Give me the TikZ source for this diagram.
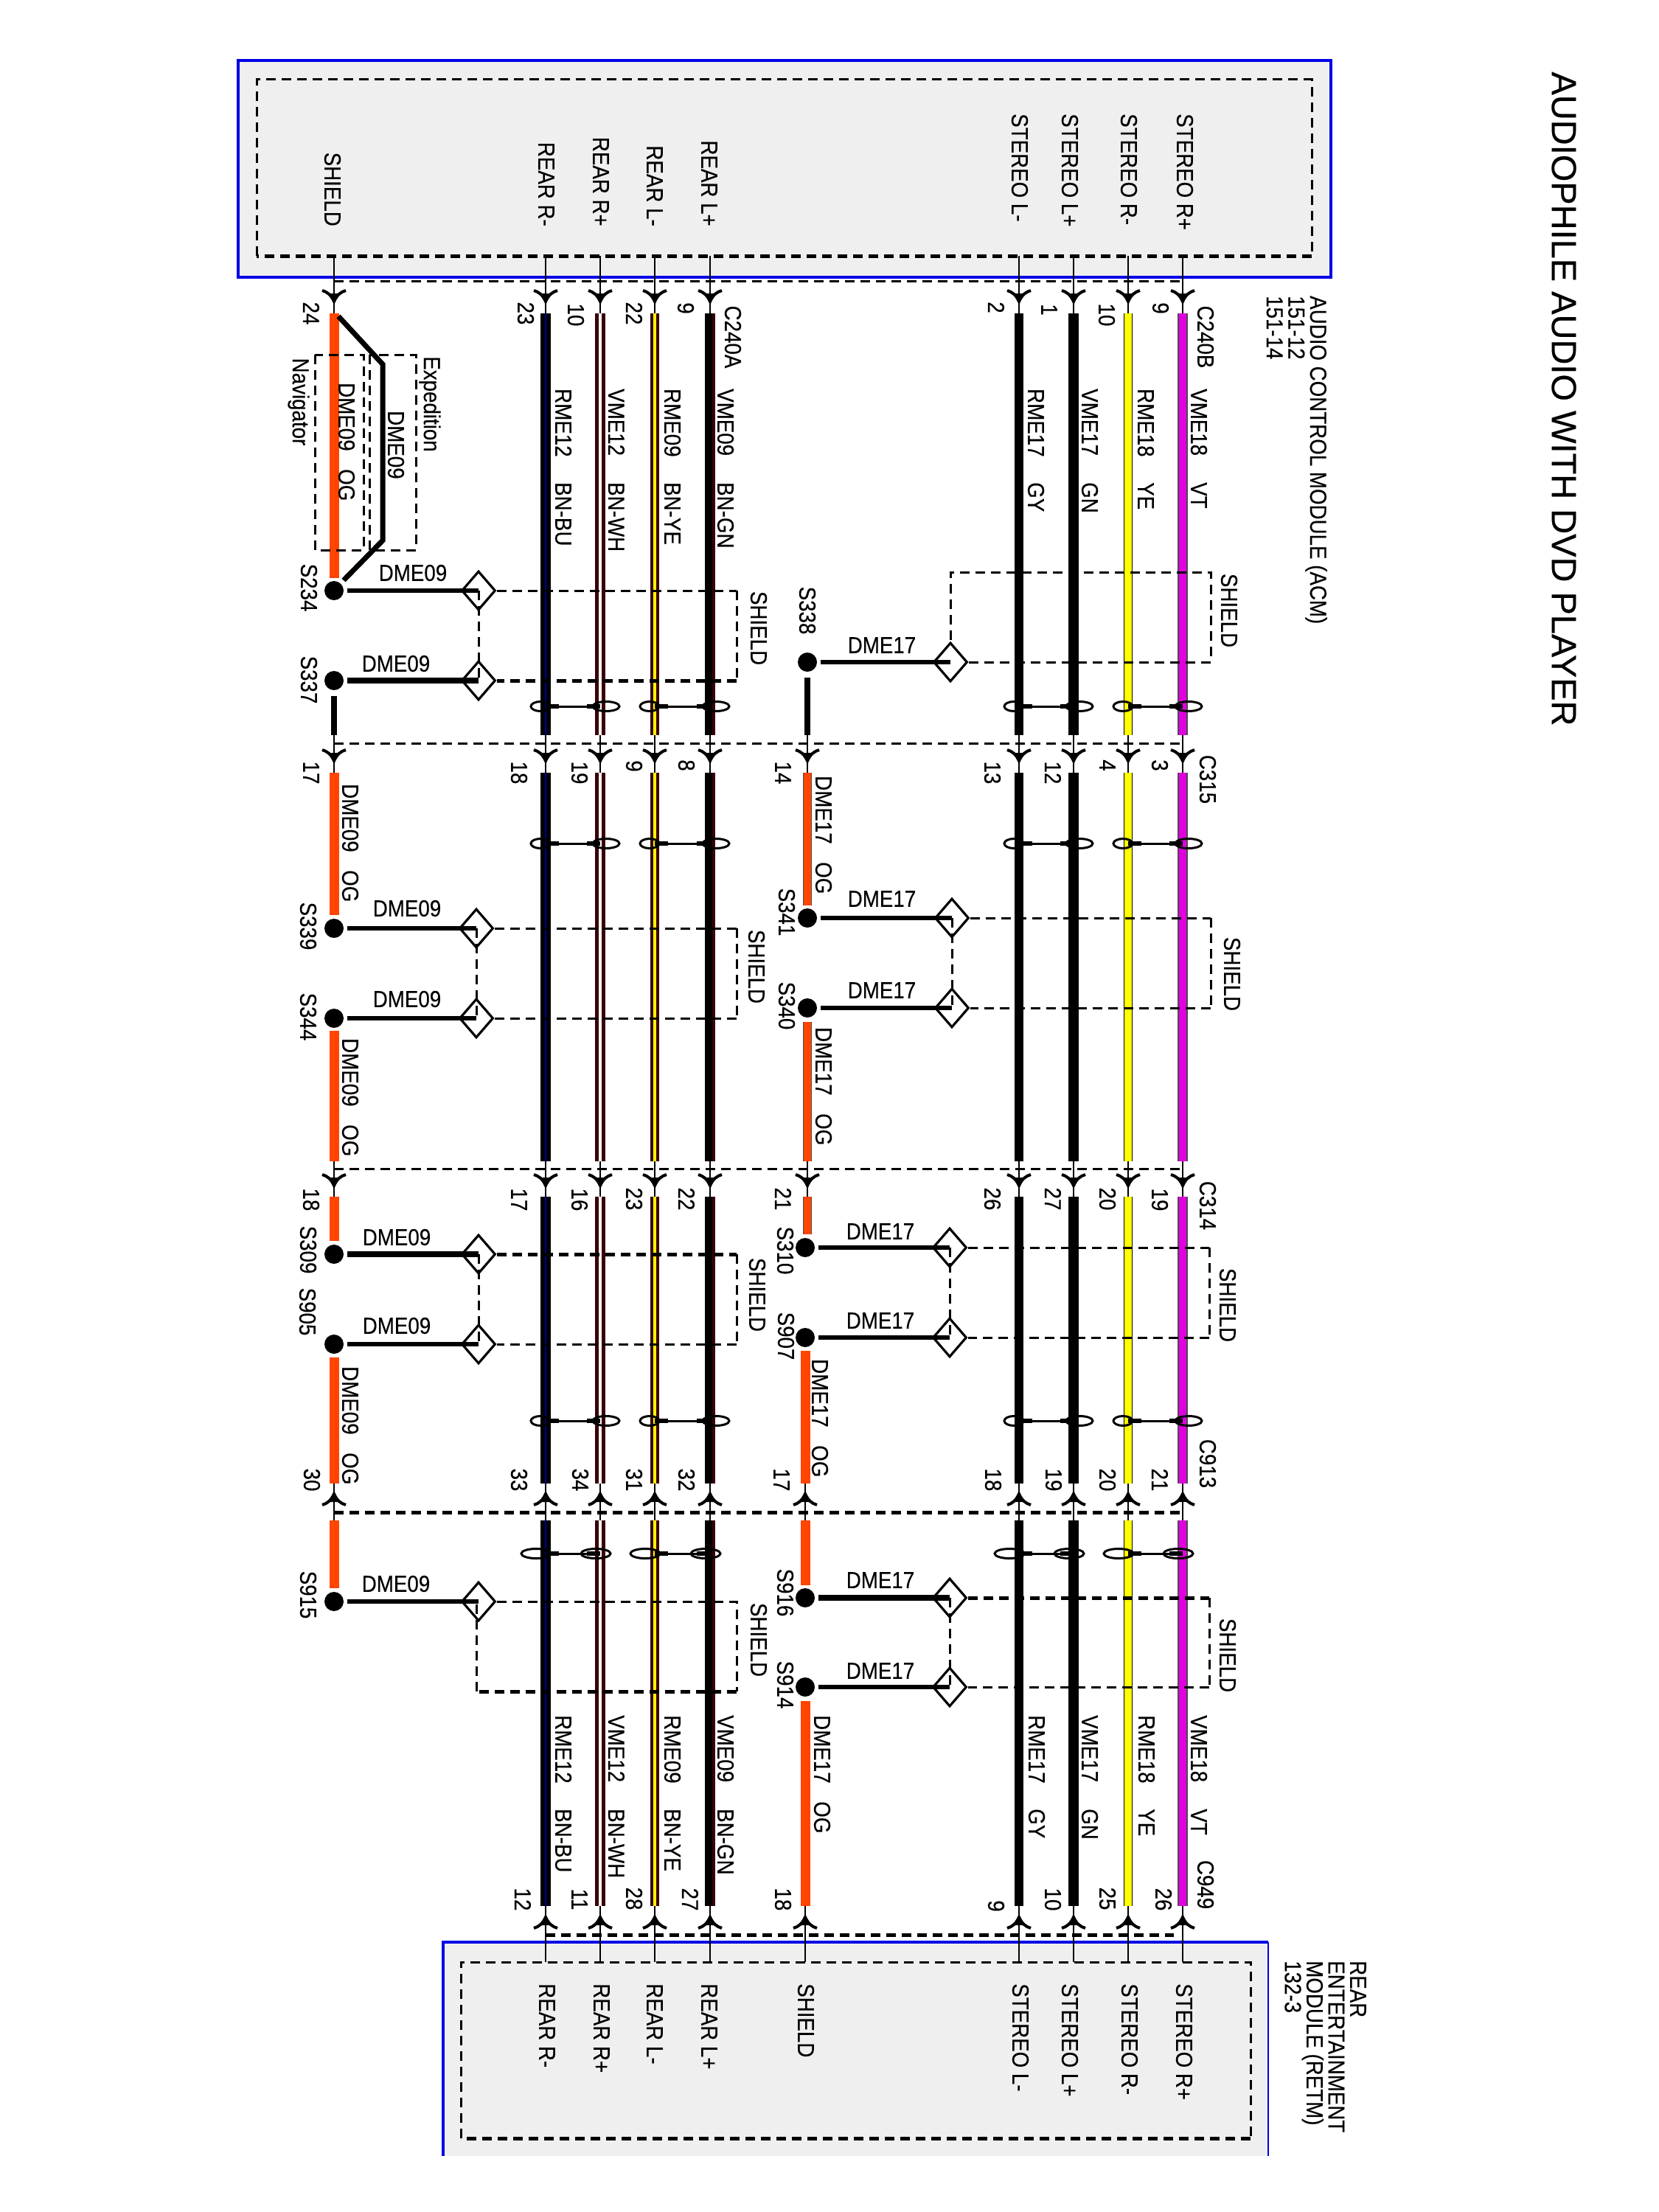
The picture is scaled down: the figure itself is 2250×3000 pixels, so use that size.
\documentclass[tikz,border=0pt]{standalone}
\usepackage{fontspec}
\setmainfont[FakeStretch=0.88,FakeBold=0.25]{Liberation Sans}
\newfontfamily\titlefont[FakeBold=0.5]{Liberation Sans}
\usetikzlibrary{shapes.geometric}

\definecolor{wireog}{HTML}{FF4500}
\definecolor{wirevt}{HTML}{E000E0}
\definecolor{wireye}{HTML}{FFFF00}
\definecolor{wirebn}{HTML}{3A0008}
\definecolor{panelgray}{HTML}{EFEFEF}
\definecolor{moduleblue}{HTML}{0000E6}

\tikzset{
  vlab/.style={rotate=-90,inner sep=0pt,font=\fontsize{31.5}{31.5}\selectfont},
  hlab/.style={inner sep=0pt,font=\fontsize{31.5}{31.5}\selectfont},
  vstart/.style={vlab,anchor=west},
  vend/.style={vlab,anchor=east},
  vlines/.style={vlab,anchor=north west,align=left,font=\fontsize{31.5}{29.5}\selectfont},
  wbu/.style={line width=6.5pt,draw=black,double=blue!55!black,double distance=1.2pt},
  wwh/.style={line width=5pt,draw=wirebn,double=white,double distance=4pt},
  wyc/.style={line width=4pt,draw=wirebn,double=wireye,double distance=4pt},
  wgn/.style={line width=14pt,draw=black,postaction={draw=wirebn,line width=4pt,transform canvas={xshift=5pt}}},
  wgy/.style={line width=12.5pt,draw=black},
  wgk/.style={line width=14pt,draw=black},
  wye/.style={line width=1.2pt,draw=black,double=wireye,double distance=10.5pt},
  wvt/.style={line width=1.5pt,draw=black!70,double=wirevt,double distance=10.5pt},
  wog/.style={line width=13pt,draw=wireog},
  wod/.style={line width=1.2pt,draw=black!70,double=wireog,double distance=10pt},
  wbk/.style={line width=7.5pt,draw=black},
  pinline/.style={line width=2.8pt,draw=black},
  rowdash/.style={line width=3pt,dash pattern=on 13pt off 8pt},
  rowdashb/.style={line width=5pt,dash pattern=on 13pt off 8pt},
  shdash/.style={line width=3pt,dash pattern=on 13pt off 8pt},
  shdashb/.style={line width=5pt,dash pattern=on 13pt off 8pt},
  stub/.style={line width=6pt,shorten <=5pt},
  splice/.style={circle,fill=black,minimum size=26pt,inner sep=0pt},
  shieldtip/.style={diamond,draw,line width=3.2pt,minimum width=46pt,minimum height=53pt,inner sep=0pt,aspect=0.87},
  forkdown/.pic={
    \draw[line width=4pt] (-16,-15) .. controls (-9,-13) and (-4,-9) .. (0,0) .. controls (4,-9) and (9,-13) .. (16,-15);
    \fill (-5,-11) -- (5,-11) -- (0,4) -- cycle;
  },
  forkup/.pic={
    \draw[line width=4pt] (-16,15) .. controls (-9,13) and (-4,9) .. (0,0) .. controls (4,9) and (9,13) .. (16,15);
    \fill (-5,11) -- (5,11) -- (0,-4) -- cycle;
  },
}

\newcommand{\twistpair}[7]{
  \draw[line width=3pt] (#1+#4,#3) ellipse (#5 and 6.5);
  \draw[line width=3pt] (#2+#6,#3) ellipse (#7 and 6.5);
  \draw[line width=3pt] (#1,#3) -- (#2,#3);
  \draw[line width=5.5pt] (#1,#3) -- (#1+18,#3);
  \draw[line width=5.5pt] (#2-18,#3) -- (#2,#3);
}
\newcommand{\codepair}[3]{\makebox[#1pt][l]{#2}#3}

\begin{document}
\begin{tikzpicture}[x=1pt,y=-1pt]
  \useasboundingbox (0,0) rectangle (2250,3000);

  % wire columns and rows
  \foreach \c/\x in {sl/453,rrm/740,rrp/814,rlm/888,rlp/963,sh/1095,slm/1382,slp/1456,srm/1530,srp/1604}
    \foreach \r/\y in {a/347,p1/409,b/425,c/997,p2/1032,d/1048,e/1575,p3/1608,f/1623,g/2012,p4/2026,h/2062,i/2585,p5/2600,j/2661}
      \coordinate (\c-\r) at (\x,\y);
  \foreach \r/\y in {g/2012,p4/2026,h/2062,i/2585,p5/2600,j/2661}
    \coordinate (sh-\r) at (1092,\y);

  % modules
  \fill[panelgray] (323,82) rectangle (1805,376);
  \fill[panelgray] (601,2634) rectangle (1720,2924);
  \draw[moduleblue,line width=4.5pt] (323,82) rectangle (1805,376);
  \draw[moduleblue,line width=4.5pt] (601,2924) -- (601,2634) -- (1720,2634);
  \draw[moduleblue,line width=2.5pt] (1720,2634) -- (1720,2924);
  \coordinate (ma) at (348,108);
  \coordinate (mb) at (1779,108);
  \coordinate (mc) at (1779,347);
  \coordinate (md) at (348,347);
  \draw[shdash] (md) -- (ma) -- (mb) -- (mc);
  \draw[shdashb] (mc) -- (md);
  \coordinate (na) at (625,2661);
  \coordinate (nb) at (1696,2661);
  \coordinate (nc) at (1696,2900);
  \coordinate (nd) at (625,2900);
  \draw[shdash] (nd) -- (na) -- (nb) -- (nc);
  \draw[shdashb] (nc) -- (nd);

  % dashed lines of the connectors
  \coordinate (row1a) at (453,381);
  \coordinate (row1b) at (1604,381);
  \coordinate (row2a) at (453,1008);
  \coordinate (row2b) at (1604,1008);
  \coordinate (row3a) at (453,1585);
  \coordinate (row3b) at (1604,1585);
  \coordinate (row4a) at (453,2051);
  \coordinate (row4b) at (1604,2051);
  \coordinate (row5a) at (740,2624);
  \coordinate (row5b) at (1592,2624);
  \draw[rowdash] (row1a) -- (row1b);
  \draw[rowdash] (row2a) -- (row2b);
  \draw[rowdash] (row3a) -- (row3b);
  \draw[rowdashb] (row4a) -- (row4b);
  \draw[rowdashb] (row5a) -- (row5b);

  % harness wires
  \foreach \c/\s in {rrm/wbu,rrp/wwh,rlm/wyc,rlp/wgn,slm/wgy,slp/wgk,srm/wye,srp/wvt} {
    \foreach \p/\q in {a/b,c/d,e/f,g/h,i/j}
      \draw[pinline] (\c-\p) -- (\c-\q);
    \foreach \p/\q in {b/c,d/e,f/g,h/i}
      \draw[\s] (\c-\p) -- (\c-\q);
    \pic at (\c-p1) {forkdown};
    \pic at (\c-p2) {forkdown};
    \pic at (\c-p3) {forkdown};
    \pic at (\c-p4) {forkup};
    \pic at (\c-p5) {forkup};
  }

  % the two shield columns
  \foreach \p/\q in {a/b,c/d,e/f,g/h}
    \draw[pinline] (sl-\p) -- (sl-\q);
  \foreach \p/\q in {c/d,e/f,i/j}
    \draw[pinline] (sh-\p) -- (sh-\q);
  \draw[pinline] (sh-g) -- (sh-h);
  \pic at (sl-p1) {forkdown};
  \pic at (sl-p2) {forkdown};
  \pic at (sl-p3) {forkdown};
  \pic at (sl-p4) {forkup};
  \pic at (sh-p2) {forkdown};
  \pic at (sh-p3) {forkdown};
  \pic at (sh-p4) {forkup};
  \pic at (sh-p5) {forkup};

  % splices with their shield tips
  \foreach \n/\x/\y/\dx in {234/453/801/649,337/453/923/649,339/453/1259/646,344/453/1381/646,309/453/1701/649,905/453/1823/649,915/453/2172/649,338/1095/898/1289,341/1095/1245/1291,340/1095/1367/1291,310/1092/1692/1288,907/1092/1814/1288,916/1092/2167/1288,914/1092/2288/1288} {
    \node[splice] (s\n) at (\x,\y) {};
    \node[shieldtip] (d\n) at (\dx,\y) {};
    \draw[stub] (s\n) -- (d\n.center);
  }
  \foreach \n in {337,309,916}
    \draw[stub,line width=8.5pt] (s\n) -- (d\n.center);

  % orange drains
  \coordinate (o234) at (453,784);
  \coordinate (o339) at (453,1241);
  \coordinate (o344) at (453,1398);
  \coordinate (o309) at (453,1683);
  \coordinate (o905) at (453,1841);
  \coordinate (o915) at (453,2154);
  \draw[wog] (sl-b) -- (o234);
  \draw[wog] (sl-d) -- (o339);
  \draw[wog] (o344) -- (sl-e);
  \draw[wog] (sl-f) -- (o309);
  \draw[wog] (o905) -- (sl-g);
  \draw[wog] (sl-h) -- (o915);
  \coordinate (o341) at (1095,1228);
  \coordinate (o340) at (1095,1386);
  \coordinate (o310) at (1095,1674);
  \coordinate (o907) at (1092,1832);
  \coordinate (o916) at (1092,2150);
  \coordinate (o914) at (1092,2307);
  \draw[wod] (sh-d) -- (o341);
  \draw[wod] (o340) -- (sh-e);
  \draw[wod] (sh-f) -- (o310);
  \draw[wog] (o907) -- (sh-g);
  \draw[wog] (sh-h) -- (o916);
  \draw[wog] (o914) -- (sh-i);
  \draw[wbk,shorten <=8pt] (s337) -- (sl-c);
  \draw[wbk,shorten <=8pt] (s338) -- (sh-c);

  % bypass for the other body
  \coordinate (by1) at (459,429);
  \coordinate (by2) at (519,494);
  \coordinate (by3) at (519,733);
  \coordinate (by4) at (466,787);
  \draw[line width=7pt] (by1) -- (by2) -- (by3) -- (by4);
  \draw[shdash] (427,481) rectangle (493,746);
  \draw[shdash] (501,481) rectangle (564,746);

  % shield boxes
  \foreach \u/\v/\rx/\sa/\sb in {234/337/999/shdash/shdashb,339/344/999/shdash/shdash,309/905/999/shdashb/shdash,341/340/1642/shdash/shdash,310/907/1640/shdash/shdash,916/914/1640/shdashb/shdash} {
    \coordinate (rail\u) at (\rx,0);
    \draw[\sa] (d\u.east) -- (d\u.east -| rail\u);
    \draw[shdash] (d\u.east -| rail\u) -- (d\v.east -| rail\u);
    \draw[\sb] (d\v.east -| rail\u) -- (d\v.east);
    \draw[shdash] (d\u.center) -- (d\v.center);
  }
  \coordinate (b338a) at (1642,898);
  \coordinate (b338b) at (1642,776);
  \coordinate (b338c) at (1289,776);
  \draw[shdash] (d338.east) -- (b338a) -- (b338b) -- (b338c) -- (d338.north);
  \coordinate (b915a) at (999,2172);
  \coordinate (b915b) at (999,2294);
  \coordinate (b915c) at (646,2294);
  \coordinate (b915d) at (646,2172);
  \draw[shdash] (d915.east) -- (b915a) -- (b915b);
  \draw[shdashb] (b915b) -- (b915c);
  \draw[shdash] (b915c) -- (b915d);

  % twisted pairs
  \foreach \ty/\cl/\rl/\cr/\rr in {958/-7/13/8/18,1144/-7/13/8/18,1927/-7/13/8/18,2107/-13/20/-6/20}
    \foreach \xa/\xb in {740/814,888/963,1382/1456,1530/1604}
      \twistpair{\xa}{\xb}{\ty}{\cl}{\rl}{\cr}{\rr};

  % title and module names
  \node[rotate=-90,inner sep=0pt,font=\titlefont\fontsize{47}{47}\selectfont] (title) at (2121,541) {AUDIOPHILE AUDIO WITH DVD PLAYER};
  \node[vlines] (acm) at (1800,401) {AUDIO CONTROL MODULE (ACM)\\151-12\\151-14};
  \node[vlines] (retm) at (1853,2659) {REAR\\ENTERTAINMENT\\MODULE (RETM)\\132-3};

  % pins of the modules
  \foreach \t/\x [count=\i] in {SHIELD/451,REAR R-/741,REAR R+/815,REAR L-/888,REAR L+/962}
    \node[vend] (ta\i) at (\x,307) {\t};
  \foreach \t/\x [count=\i] in {STEREO L-/1383,STEREO L+/1451,STEREO R-/1531,STEREO R+/1607}
    \node[vstart] (tb\i) at (\x,154) {\t};
  \foreach \t/\x [count=\i] in {REAR R-/742,REAR R+/816,REAR L-/888,REAR L+/962,SHIELD/1093,STEREO L-/1384,STEREO L+/1451,STEREO R-/1532,STEREO R+/1606}
    \node[vstart] (tc\i) at (\x,2690) {\t};

  % pin numbers and connector names
  \foreach \t/\x/\y [count=\i] in {24/422/425,23/713/425,10/781/427,22/860/425,9/930/418,2/1351/417,1/1423/420,10/1501/427,9/1574/418,C240A/994/457,C240B/1635/457,
    17/422/1048,18/704/1048,19/786/1048,9/860/1039,8/931/1038,14/1062/1048,13/1346/1048,12/1428/1048,4/1502/1038,3/1573/1038,C315/1638/1057,
    18/422/1627,17/704/1627,16/786/1627,23/860/1626,22/931/1626,21/1062/1626,26/1346/1626,27/1428/1626,20/1502/1626,19/1573/1627,C314/1638/1635,
    30/423/2007,33/704/2007,34/787/2007,31/860/2007,32/931/2007,17/1060/2007,18/1347/2007,19/1429/2007,20/1502/2007,21/1573/2007,C913/1638/1985,
    12/709/2576,11/786/2576,28/860/2575,27/936/2576,18/1062/2576,9/1351/2585,10/1428/2576,25/1502/2575,26/1578/2576,C949/1635/2556}
    \node[vlab] (pin\i) at (\x,\y) {\t};

  % splice names
  \foreach \t/\x/\y in {234/419/797,337/419/922,339/418/1256,344/418/1379,309/418/1695,905/417/1779,915/418/2163,338/1095/828,341/1067/1237,340/1067/1364,310/1065/1696,907/1066/1812,916/1065/2160,914/1065/2285}
    \node[vlab] (ls\t) at (\x,\y) {S\t};

  % shield names
  \foreach \x/\y [count=\i] in {1029/852,1667/828,1026/1311,1671/1321,1027/1756,1665/1770,1029/2224,1665/2245}
    \node[vlab] (shl\i) at (\x,\y) {SHIELD};

  % names of the drains
  \foreach \t/\x/\y [count=\i] in {DME09/560/777,DME09/537/900,DME17/1196/875,DME09/552/1232,DME09/552/1355,DME17/1196/1219,DME17/1196/1343,DME09/538/1678,DME09/538/1798,DME17/1194/1670,DME17/1194/1791,DME09/537/2148,DME17/1194/2143,DME17/1194/2266}
    \node[hlab] (dl\i) at (\x,\y) {\t};

  % codes along the wires
  \foreach \a/\b/\x/\y [count=\i] in {RME12/BN-BU/764/527,VME12/BN-WH/836/527,RME09/BN-YE/912/527,VME09/BN-GN/984/527,RME17/GY/1405/527,VME17/GN/1478/527,RME18/YE/1554/527,VME18/VT/1626/527,
    RME12/BN-BU/764/2326,VME12/BN-WH/836/2326,RME09/BN-YE/912/2326,VME09/BN-GN/984/2326,RME17/GY/1406/2326,VME17/GN/1478/2326,RME18/YE/1555/2326,VME18/VT/1626/2326}
    \node[vstart] (code\i) at (\x,\y) {\codepair{127}{\a}{\b}};
  \foreach \a/\x/\y [count=\i] in {DME09/470/519,DME09/475/1063,DME09/475/1408,DME09/475/1853,DME17/1117/1052,DME17/1117/1393,DME17/1112/1843,DME17/1115/2326}
    \node[vstart] (og\i) at (\x,\y) {\codepair{117}{\a}{OG}};
  \node[vstart] (dme) at (537,557) {DME09};
  \node[vlab] (nav) at (405,545) {Navigator};
  \node[vlab] (exp) at (583,548) {Expedition};
\end{tikzpicture}
\end{document}
